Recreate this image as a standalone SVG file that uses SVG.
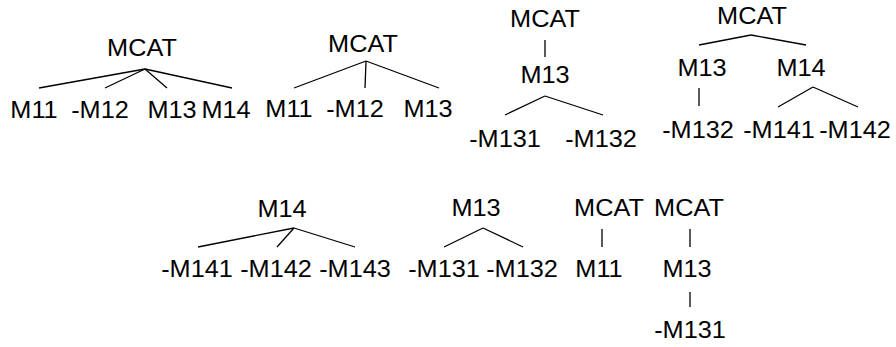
<svg xmlns="http://www.w3.org/2000/svg" width="896" height="347" viewBox="0 0 896 347">
  <style>
    text { font-family: "Liberation Sans", Arial, sans-serif; font-size: 23px; fill: #000; text-anchor: middle; }
    .edges line { stroke: #000; stroke-width: 1.3; stroke-linecap: butt; }
  </style>
  <rect width="896" height="347" fill="#fff"/>

  <!-- connectors -->
  <g id="connectors" class="edges">
    <!-- tree 1 -->
    <line x1="145" y1="69" x2="39" y2="88"/>
    <line x1="145" y1="69" x2="105" y2="88"/>
    <line x1="145" y1="69" x2="167" y2="88"/>
    <line x1="145" y1="69" x2="232" y2="88"/>
    <!-- tree 2 -->
    <line x1="366" y1="61" x2="294" y2="88"/>
    <line x1="366" y1="61" x2="365" y2="88"/>
    <line x1="366" y1="61" x2="439" y2="88"/>
    <!-- tree 3 -->
    <line x1="545" y1="40" x2="545" y2="57"/>
    <line x1="545" y1="96" x2="505" y2="115"/>
    <line x1="545" y1="96" x2="603" y2="115"/>
    <!-- tree 4 -->
    <line x1="751" y1="35" x2="699" y2="45"/>
    <line x1="751" y1="35" x2="806" y2="45"/>
    <line x1="699" y1="88" x2="699" y2="106"/>
    <line x1="813" y1="87" x2="778" y2="107"/>
    <line x1="813" y1="87" x2="858" y2="107"/>
    <!-- tree 5 -->
    <line x1="294" y1="228" x2="198" y2="247"/>
    <line x1="294" y1="228" x2="277" y2="247"/>
    <line x1="294" y1="228" x2="355" y2="247"/>
    <!-- tree 6 -->
    <line x1="483" y1="228" x2="444" y2="247"/>
    <line x1="483" y1="228" x2="523" y2="247"/>
    <!-- tree 7 -->
    <line x1="602" y1="229" x2="602" y2="247"/>
    <!-- tree 8 -->
    <line x1="690" y1="229" x2="690" y2="247"/>
    <line x1="690" y1="292" x2="690" y2="307"/>
  </g>

  <!-- labels are drawn slightly widened (scale 1.1 horizontally) -->
  <!-- tree 1 -->
  <g id="t1-mcat"><text transform="translate(142,56) scale(1.1,1)">MCAT</text></g>
  <g id="t1-m11"><text transform="translate(34,118) scale(1.1,1)">M11</text></g>
  <g id="t1-m12"><text transform="translate(100,118) scale(1.1,1)">-M12</text></g>
  <g id="t1-m13"><text transform="translate(172,118) scale(1.1,1)">M13</text></g>
  <g id="t1-m14"><text transform="translate(226,118) scale(1.1,1)">M14</text></g>

  <!-- tree 2 -->
  <g id="t2-mcat"><text transform="translate(363,52) scale(1.1,1)">MCAT</text></g>
  <g id="t2-m11"><text transform="translate(289,117) scale(1.1,1)">M11</text></g>
  <g id="t2-m12"><text transform="translate(355,117) scale(1.1,1)">-M12</text></g>
  <g id="t2-m13"><text transform="translate(428,117) scale(1.1,1)">M13</text></g>

  <!-- tree 3 -->
  <g id="t3-mcat"><text transform="translate(545,27) scale(1.1,1)">MCAT</text></g>
  <g id="t3-m13"><text transform="translate(545,83) scale(1.1,1)">M13</text></g>
  <g id="t3-m131"><text transform="translate(505,147) scale(1.1,1)">-M131</text></g>
  <g id="t3-m132"><text transform="translate(601,147) scale(1.1,1)">-M132</text></g>

  <!-- tree 4 -->
  <g id="t4-mcat"><text transform="translate(752,24) scale(1.1,1)">MCAT</text></g>
  <g id="t4-m13"><text transform="translate(702,76) scale(1.1,1)">M13</text></g>
  <g id="t4-m14"><text transform="translate(801,76) scale(1.1,1)">M14</text></g>
  <g id="t4-m132"><text transform="translate(698,138) scale(1.1,1)">-M132</text></g>
  <g id="t4-m141"><text transform="translate(779,138) scale(1.1,1)">-M141</text></g>
  <g id="t4-m142"><text transform="translate(855,138) scale(1.1,1)">-M142</text></g>

  <!-- tree 5 -->
  <g id="t5-m14"><text transform="translate(282,217) scale(1.1,1)">M14</text></g>
  <g id="t5-m141"><text transform="translate(197,277) scale(1.1,1)">-M141</text></g>
  <g id="t5-m142"><text transform="translate(276,277) scale(1.1,1)">-M142</text></g>
  <g id="t5-m143"><text transform="translate(355,277) scale(1.1,1)">-M143</text></g>

  <!-- tree 6 -->
  <g id="t6-m13"><text transform="translate(476,216) scale(1.1,1)">M13</text></g>
  <g id="t6-m131"><text transform="translate(444,277) scale(1.1,1)">-M131</text></g>
  <g id="t6-m132"><text transform="translate(522,277) scale(1.1,1)">-M132</text></g>

  <!-- tree 7 -->
  <g id="t7-mcat"><text transform="translate(609,216) scale(1.1,1)">MCAT</text></g>
  <g id="t7-m11"><text transform="translate(599,277) scale(1.1,1)">M11</text></g>

  <!-- tree 8 -->
  <g id="t8-mcat"><text transform="translate(689,216) scale(1.1,1)">MCAT</text></g>
  <g id="t8-m13"><text transform="translate(687,277) scale(1.1,1)">M13</text></g>
  <g id="t8-m131"><text transform="translate(690,338) scale(1.1,1)">-M131</text></g>
</svg>
